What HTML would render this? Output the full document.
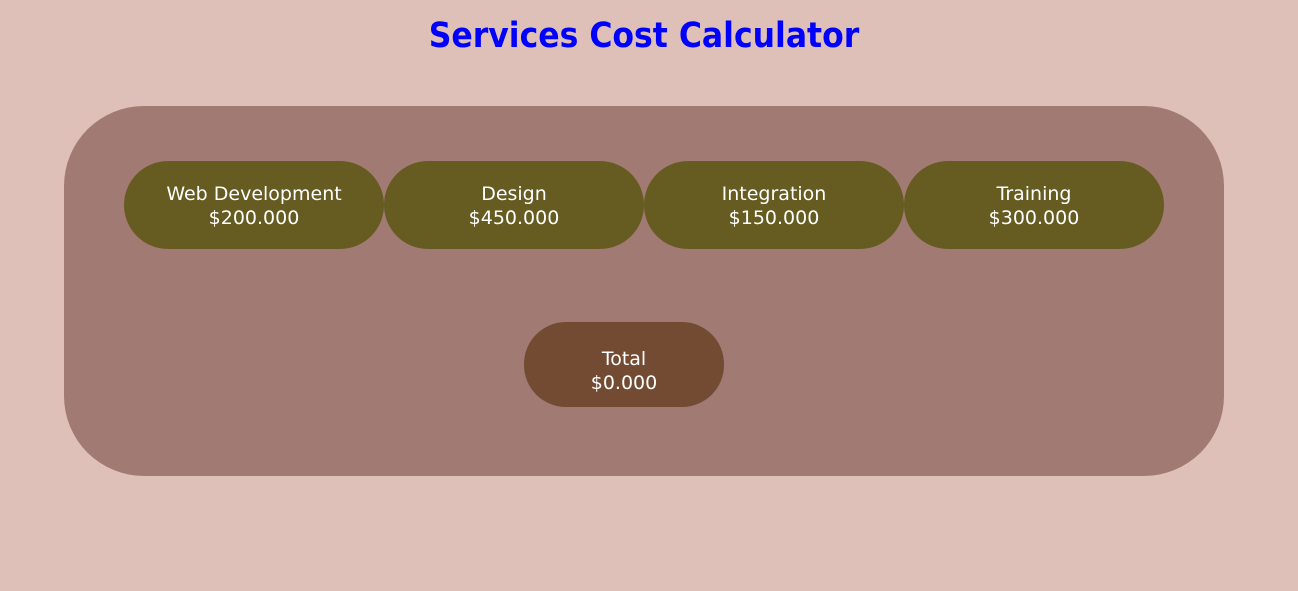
<!DOCTYPE html>
<html><head><meta charset="utf-8"><style>
body{margin:0;width:1298px;height:591px;background:#dfc0b8;font-family:"DejaVu Sans","Liberation Sans",sans-serif;position:relative;overflow:hidden}
h1{position:absolute;top:14px;left:0;width:1288px;margin:0;text-align:center;color:#0000ff;font-family:"DejaVu Sans Condensed","DejaVu Sans",sans-serif;font-weight:bold;font-size:35px;line-height:44px}
.panel{position:absolute;left:64px;top:106px;width:1160px;height:370px;background:#a17b73;border-radius:80px}
.svc{position:absolute;top:161px;width:260px;height:88px;border-radius:44px;background:#665b20;color:#fff;text-align:center;font-size:19px;line-height:24px;display:flex;flex-direction:column;justify-content:center;box-sizing:border-box;padding-top:2px}
.total{position:absolute;left:524px;top:322px;width:200px;height:85px;border-radius:42px;background:#734a32;color:#fff;text-align:center;font-size:19px;line-height:24px;display:flex;flex-direction:column;justify-content:center;box-sizing:border-box;padding-top:12px}
</style></head><body>
<h1>Services Cost Calculator</h1>
<div class="panel"></div>
<div class="svc" style="left:124px"><div>Web Development</div><div>$200.000</div></div>
<div class="svc" style="left:384px"><div>Design</div><div>$450.000</div></div>
<div class="svc" style="left:644px"><div>Integration</div><div>$150.000</div></div>
<div class="svc" style="left:904px"><div>Training</div><div>$300.000</div></div>
<div class="total"><div>Total</div><div>$0.000</div></div>
</body></html>
